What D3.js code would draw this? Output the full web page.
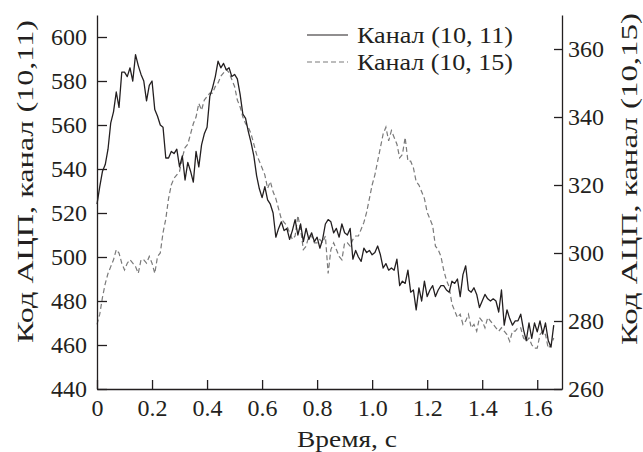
<!DOCTYPE html>
<html>
<head>
<meta charset="utf-8">
<script src="https://cdn.jsdelivr.net/npm/d3@7"></script>
<style>
  body { margin: 0; background: #fff; }
  text { font-family: "Liberation Serif", "Times New Roman", serif; fill: #231f20; }
</style>
</head>
<body>
<script>
// samples are 0.01 s apart, starting at t = 0
const timeStep = 0.01;

// channel (10, 11), left axis
const channel11 = [
  524, 532, 539, 542, 549, 561, 566, 575, 568, 584,
  584, 582, 586, 580, 592, 587, 583, 580, 571, 578,
  580, 567, 564, 560, 559, 545, 545, 548, 547, 549,
  541, 546, 535, 543, 539, 534, 548, 541, 551, 556,
  559, 573, 577, 582, 589, 586, 588, 585, 586, 582,
  583, 581, 574, 565, 563, 557, 552, 546, 537, 531,
  527, 532, 526, 524, 520, 509, 513, 516, 512, 513,
  508, 512, 517, 510, 515, 507, 513, 508, 511, 507,
  509, 504, 508, 515, 517, 516, 511, 513, 509, 515,
  511, 510, 513, 499, 503, 500, 498, 504, 502, 503,
  501, 502, 505, 501, 495, 497, 494, 495, 494, 499,
  487, 489, 488, 494, 484, 485, 476, 486, 480, 489,
  482, 485, 487, 482, 485, 487, 487, 485, 484, 489,
  488, 490, 482, 492, 496, 485, 484, 486, 483, 477,
  480, 483, 481, 480, 481, 480, 475, 485, 469, 476,
  472, 469, 471, 471, 474, 467, 462, 470, 463, 470,
  466, 471, 465, 470, 462, 459, 469
];

// channel (10, 15), right axis
const channel15 = [
  279, 282, 287, 291, 294, 296, 298, 301, 300, 297,
  295, 297, 298, 297, 296, 294, 298, 298, 297, 299,
  297, 294, 299, 300, 306, 310, 316, 320, 322, 323,
  324, 328, 331, 332, 335, 338, 340, 344, 342, 345,
  346, 347, 347, 349, 350, 352, 353, 354, 353, 351,
  349, 345, 343, 340, 338, 337, 335, 332, 329, 327,
  325, 323, 319, 321, 318, 316, 313, 310, 309, 308,
  306, 304, 305, 311, 307, 301, 302, 305, 305, 303,
  303, 304, 303, 305, 294, 301, 303, 301, 299, 298,
  303, 303, 302, 304, 305, 305, 307, 309, 312, 316,
  320, 323, 327, 331, 335, 337, 333, 336, 334, 332,
  328, 329, 334, 327, 327, 325, 321, 320, 318, 316,
  312, 310, 308, 302, 301, 299, 295, 292, 290, 285,
  283, 281, 282, 279, 280, 282, 278, 279, 277, 281,
  280, 278, 281, 280, 279, 278, 277, 278, 277, 276,
  274, 277, 277, 278, 278, 275, 274, 275, 273, 272,
  272, 276, 277, 276, 272, 273, 275
];

const xTicks = [0, 0.2, 0.4, 0.6, 0.8, 1.0, 1.2, 1.4, 1.6];
const leftTicks = [440, 460, 480, 500, 520, 540, 560, 580, 600];
const rightTicks = [260, 280, 300, 320, 340, 360];
const seriesNames = ['Канал (10, 11)', 'Канал (10, 15)'];
const xTitle = 'Время, с';
const leftTitle = 'Код АЦП, канал (10,11)';
const rightTitle = 'Код АЦП, канал (10,15)';

const width = 643;
const height = 452;
const plot = { left: 97, right: 562, top: 15, bottom: 389 };
const ink = '#231f20';
const dashInk = '#7a7a7a';

const svg = d3.select('body')
  .append('svg')
  .attr('width', width)
  .attr('height', height);

const x = d3.scaleLinear().domain([0, 1.69]).range([plot.left, plot.right]);
const yLeft = d3.scaleLinear().domain([440, 610]).range([plot.bottom, plot.top]);
const yRight = d3.scaleLinear().domain([260, 370]).range([plot.bottom, plot.top]);

// series
const lineLeft = d3.line().x((d, i) => x(i * timeStep)).y((d) => yLeft(d));
const lineRight = d3.line().x((d, i) => x(i * timeStep)).y((d) => yRight(d));

svg.append('path')
  .datum(channel15)
  .attr('d', lineRight)
  .attr('fill', 'none')
  .attr('stroke', dashInk)
  .attr('stroke-width', 1.2)
  .attr('stroke-dasharray', '5,3');

svg.append('path')
  .datum(channel11)
  .attr('d', lineLeft)
  .attr('fill', 'none')
  .attr('stroke', ink)
  .attr('stroke-width', 1.3)
  .attr('stroke-linejoin', 'round');

// axes, ticks pointing into the plot
const styleAxis = (g) => {
  g.selectAll('path, line').attr('stroke', ink).attr('stroke-width', 1.3);
  g.selectAll('text').style('font-size', '24px').attr('fill', ink);
};

svg.append('g')
  .attr('transform', 'translate(0,' + plot.bottom + ')')
  .call(d3.axisBottom(x)
    .tickValues(xTicks)
    .tickSizeInner(-9)
    .tickSizeOuter(0)
    .tickPadding(10)
    .tickFormat((d) => d === 0 ? '0' : d3.format('.1f')(d)))
  .call(styleAxis);

svg.append('g')
  .attr('transform', 'translate(' + plot.left + ',0)')
  .call(d3.axisLeft(yLeft)
    .tickValues(leftTicks)
    .tickSizeInner(-10)
    .tickSizeOuter(0)
    .tickPadding(10))
  .call(styleAxis);

svg.append('g')
  .attr('transform', 'translate(' + plot.right + ',0)')
  .call(d3.axisRight(yRight)
    .tickValues(rightTicks)
    .tickSizeInner(-8)
    .tickSizeOuter(0)
    .tickPadding(6))
  .call(styleAxis);

// axis titles (the original type is set wide, so stretch to its length)
svg.append('text')
  .attr('transform', 'translate(297,447)')
  .attr('textLength', 100)
  .attr('lengthAdjust', 'spacingAndGlyphs')
  .style('font-size', '24px')
  .text(xTitle);

svg.append('text')
  .attr('transform', 'translate(33,343) rotate(-90)')
  .attr('textLength', 323)
  .attr('lengthAdjust', 'spacingAndGlyphs')
  .style('font-size', '24px')
  .text(leftTitle);

svg.append('text')
  .attr('transform', 'translate(637,345) rotate(-90)')
  .attr('textLength', 332)
  .attr('lengthAdjust', 'spacingAndGlyphs')
  .style('font-size', '24px')
  .text(rightTitle);

// legend
const legend = svg.append('g').attr('transform', 'translate(307,35)');
const legendRows = [
  { name: seriesNames[0], stroke: ink, dash: null },
  { name: seriesNames[1], stroke: dashInk, dash: '5,3' }
];
legendRows.forEach((row, i) => {
  legend.append('line')
    .attr('x1', 0).attr('x2', 41)
    .attr('y1', i * 27).attr('y2', i * 27)
    .attr('stroke', row.stroke)
    .attr('stroke-width', 1.2)
    .attr('stroke-dasharray', row.dash);
  legend.append('text')
    .attr('x', 50)
    .attr('y', i * 27 + 8)
    .attr('textLength', 156)
    .attr('lengthAdjust', 'spacingAndGlyphs')
    .style('font-size', '24px')
    .text(row.name);
});
</script>
</body>
</html>
